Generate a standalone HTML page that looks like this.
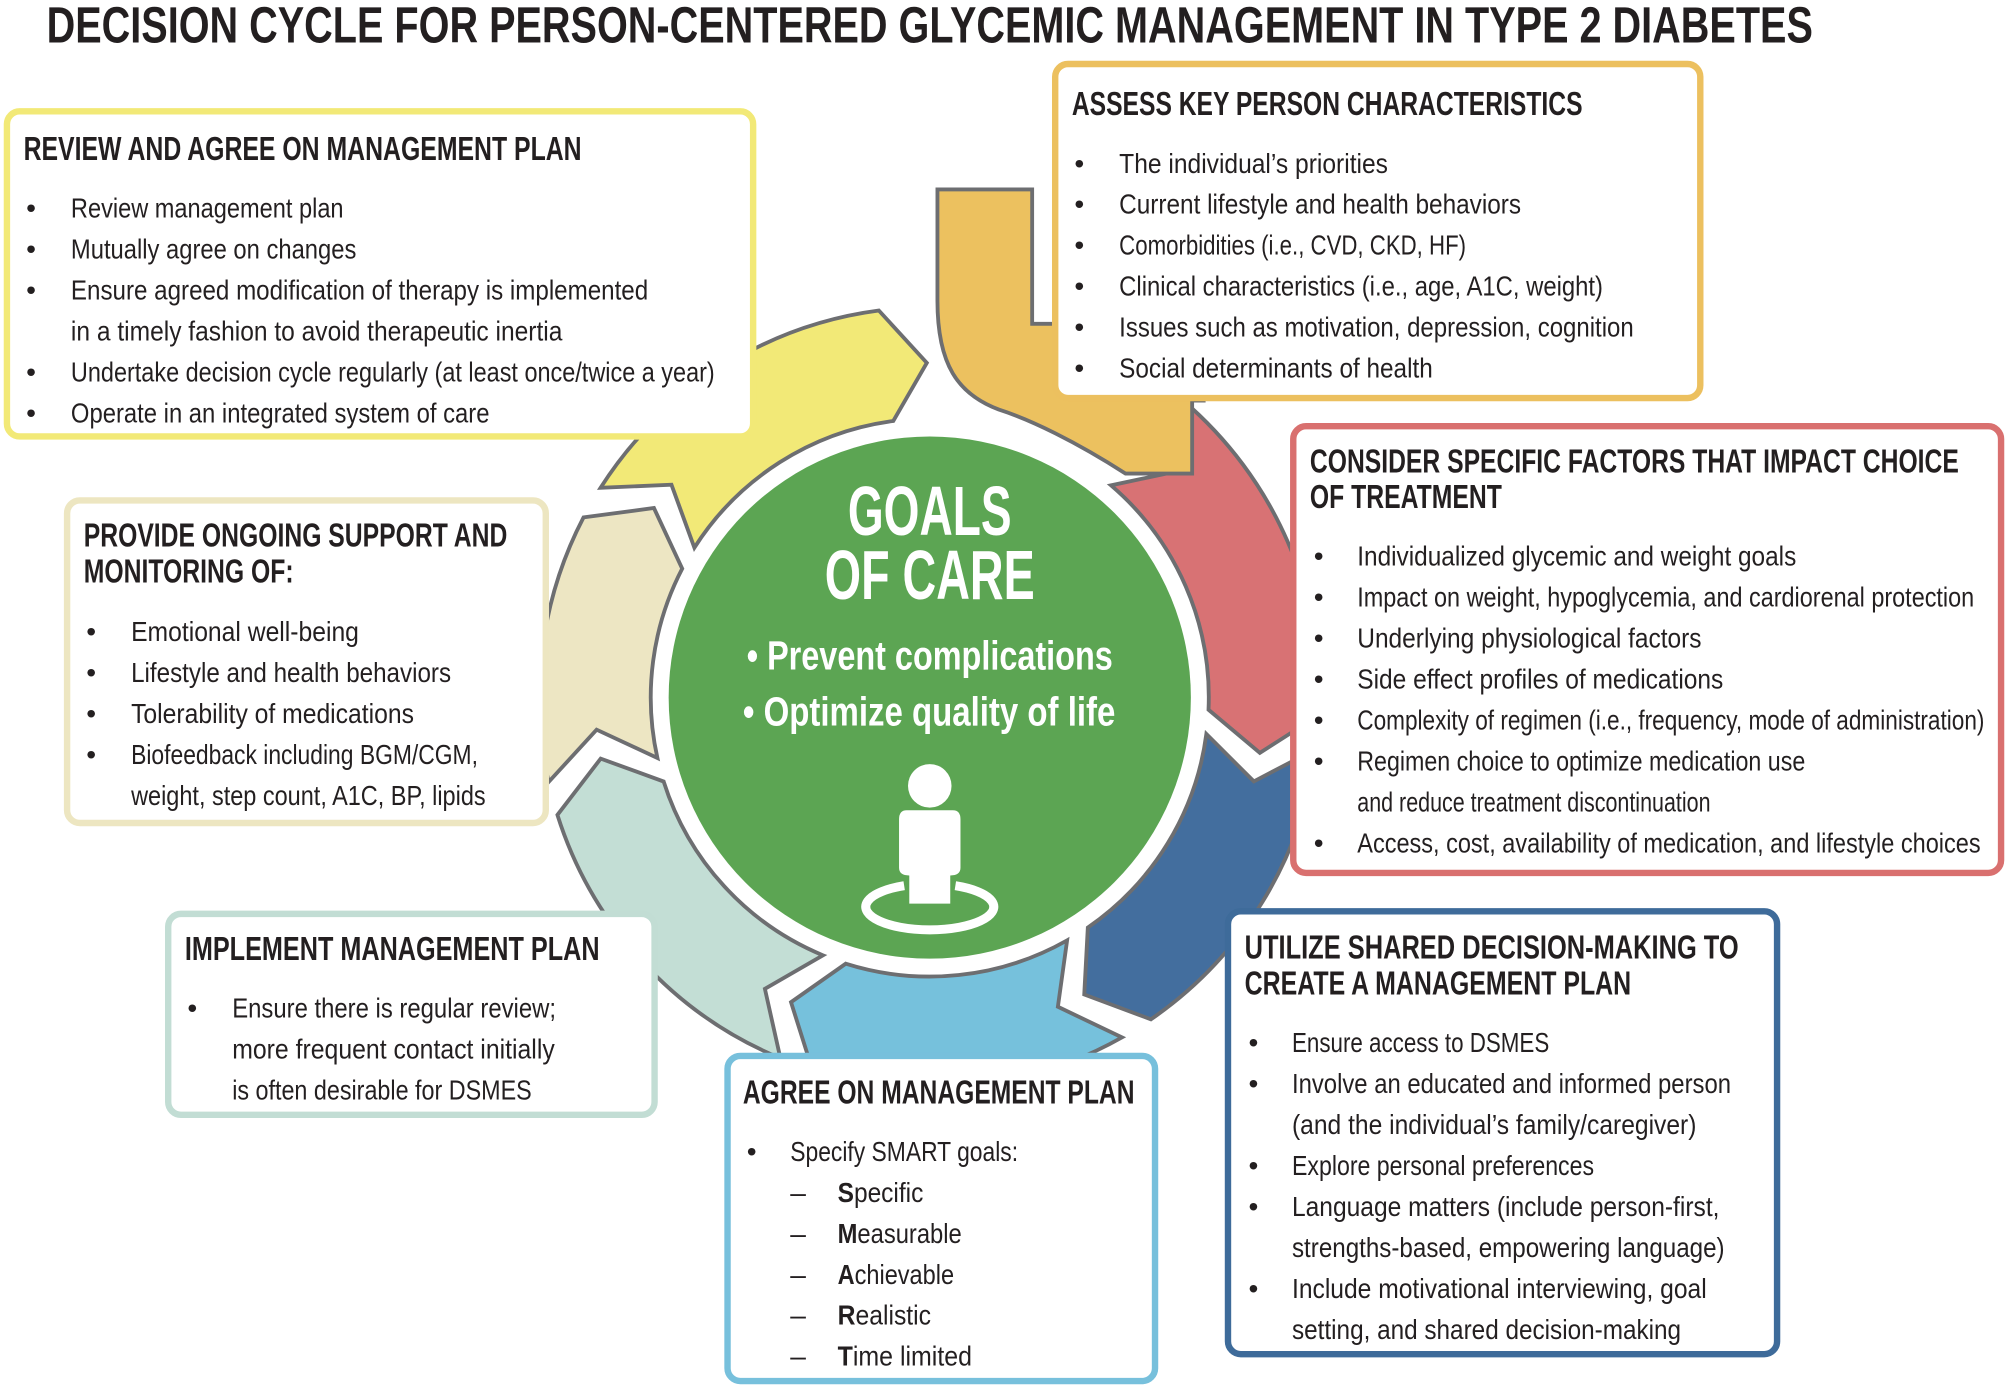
<!DOCTYPE html>
<html><head><meta charset="utf-8"><style>
html,body{margin:0;padding:0;background:#fff;}
svg{display:block}
text{font-family:"Liberation Sans Narrow","Liberation Sans",sans-serif;fill:#231f20}
.h{font-weight:bold;font-size:26px}
.b{font-size:22px}
</style></head><body>
<svg width="2008" height="1390" viewBox="0 0 1568 1086" xmlns="http://www.w3.org/2000/svg">
<g id="ring" stroke="#6d6e71" stroke-width="3" stroke-linejoin="miter"></g>
<path d="M732,148 L806,148 L806,253 L940,253 L940,313 L931,313 L931,370 L879,370 C840,345 805,328 780,320 C748,308 732,285 732,235 Z" fill="#ecc15f" stroke="#6d6e71" stroke-width="3"/>
<circle cx="726" cy="545" r="204" fill="#5ca553"/>
<text x="726" y="418" text-anchor="middle" style="fill:#fff;font-weight:bold;font-size:54px" textLength="128" lengthAdjust="spacingAndGlyphs">GOALS</text>
<text x="726" y="468" text-anchor="middle" style="fill:#fff;font-weight:bold;font-size:54px" textLength="164" lengthAdjust="spacingAndGlyphs">OF CARE</text>
<text x="583" y="523" style="fill:#fff;font-weight:bold;font-size:32px" textLength="286" lengthAdjust="spacingAndGlyphs">• Prevent complications</text>
<text x="580" y="567" style="fill:#fff;font-weight:bold;font-size:32px" textLength="291" lengthAdjust="spacingAndGlyphs">• Optimize quality of life</text>
<circle cx="726" cy="614" r="17" fill="#fff"/>
<path d="M708,633 H744 Q750,633 750,640 V678 Q750,684 742,684 V706 H710 V684 Q702,684 702,678 V640 Q702,633 708,633Z" fill="#fff"/>
<path d="M706,692 A50,18 0 1 0 746,692" fill="none" stroke="#fff" stroke-width="7"/>

<g fill="#fff" stroke-width="5">
<rect x="5" y="87" width="583" height="254" rx="10" stroke="#f2e977"/>
<rect x="824" y="50" width="504" height="261" rx="10" stroke="#ecc05f"/>
<rect x="1010" y="333" width="553" height="349" rx="10" stroke="#d9706f"/>
<rect x="959" y="712" width="429" height="346" rx="10" stroke="#3e6b9a"/>
<rect x="568" y="825" width="334" height="254" rx="10" stroke="#77c0dc"/>
<rect x="131" y="714" width="380" height="157" rx="10" stroke="#c2ddd4"/>
<rect x="52" y="391" width="374" height="252" rx="10" stroke="#ede6c1"/>
</g>

<text x="36" y="33" style="font-weight:bold;font-size:40px" textLength="1380" lengthAdjust="spacingAndGlyphs">DECISION CYCLE FOR PERSON-CENTERED GLYCEMIC MANAGEMENT IN TYPE 2 DIABETES</text>

<text class="h" x="18" y="125" textLength="436" lengthAdjust="spacingAndGlyphs">REVIEW AND AGREE ON MANAGEMENT PLAN</text>
<g class="b">
<text x="20" y="170">•</text><text x="55" y="170" textLength="213" lengthAdjust="spacingAndGlyphs">Review management plan</text>
<text x="20" y="202">•</text><text x="55" y="202" textLength="223" lengthAdjust="spacingAndGlyphs">Mutually agree on changes</text>
<text x="20" y="234">•</text><text x="55" y="234" textLength="451" lengthAdjust="spacingAndGlyphs">Ensure agreed modification of therapy is implemented</text>
<text x="55" y="266" textLength="384" lengthAdjust="spacingAndGlyphs">in a timely fashion to avoid therapeutic inertia</text>
<text x="20" y="298">•</text><text x="55" y="298" textLength="503" lengthAdjust="spacingAndGlyphs">Undertake decision cycle regularly (at least once/twice a year)</text>
<text x="20" y="330">•</text><text x="55" y="330" textLength="327" lengthAdjust="spacingAndGlyphs">Operate in an integrated system of care</text>
</g>
<text class="h" x="837" y="90" textLength="399" lengthAdjust="spacingAndGlyphs">ASSESS KEY PERSON CHARACTERISTICS</text>
<g class="b">
<text x="839" y="135">•</text><text x="874" y="135" textLength="210" lengthAdjust="spacingAndGlyphs">The individual’s priorities</text>
<text x="839" y="167">•</text><text x="874" y="167" textLength="314" lengthAdjust="spacingAndGlyphs">Current lifestyle and health behaviors</text>
<text x="839" y="199">•</text><text x="874" y="199" textLength="271" lengthAdjust="spacingAndGlyphs">Comorbidities (i.e., CVD, CKD, HF)</text>
<text x="839" y="231">•</text><text x="874" y="231" textLength="378" lengthAdjust="spacingAndGlyphs">Clinical characteristics (i.e., age, A1C, weight)</text>
<text x="839" y="263">•</text><text x="874" y="263" textLength="402" lengthAdjust="spacingAndGlyphs">Issues such as motivation, depression, cognition</text>
<text x="839" y="295">•</text><text x="874" y="295" textLength="245" lengthAdjust="spacingAndGlyphs">Social determinants of health</text>
</g>
<text class="h" x="1023" y="369" textLength="507" lengthAdjust="spacingAndGlyphs">CONSIDER SPECIFIC FACTORS THAT IMPACT CHOICE</text>
<text class="h" x="1023" y="397" textLength="150" lengthAdjust="spacingAndGlyphs">OF TREATMENT</text>
<g class="b">
<text x="1026" y="442">•</text><text x="1060" y="442" textLength="343" lengthAdjust="spacingAndGlyphs">Individualized glycemic and weight goals</text>
<text x="1026" y="474">•</text><text x="1060" y="474" textLength="482" lengthAdjust="spacingAndGlyphs">Impact on weight, hypoglycemia, and cardiorenal protection</text>
<text x="1026" y="506">•</text><text x="1060" y="506" textLength="269" lengthAdjust="spacingAndGlyphs">Underlying physiological factors</text>
<text x="1026" y="538">•</text><text x="1060" y="538" textLength="286" lengthAdjust="spacingAndGlyphs">Side effect profiles of medications</text>
<text x="1026" y="570">•</text><text x="1060" y="570" textLength="490" lengthAdjust="spacingAndGlyphs">Complexity of regimen (i.e., frequency, mode of administration)</text>
<text x="1026" y="602">•</text><text x="1060" y="602" textLength="350" lengthAdjust="spacingAndGlyphs">Regimen choice to optimize medication use</text>
<text x="1060" y="634" textLength="276" lengthAdjust="spacingAndGlyphs">and reduce treatment discontinuation</text>
<text x="1026" y="666">•</text><text x="1060" y="666" textLength="487" lengthAdjust="spacingAndGlyphs">Access, cost, availability of medication, and lifestyle choices</text>
</g>
<text class="h" x="972" y="749" textLength="386" lengthAdjust="spacingAndGlyphs">UTILIZE SHARED DECISION-MAKING TO</text>
<text class="h" x="972" y="777" textLength="302" lengthAdjust="spacingAndGlyphs">CREATE A MANAGEMENT PLAN</text>
<g class="b">
<text x="975" y="822">•</text><text x="1009" y="822" textLength="201" lengthAdjust="spacingAndGlyphs">Ensure access to DSMES</text>
<text x="975" y="854">•</text><text x="1009" y="854" textLength="343" lengthAdjust="spacingAndGlyphs">Involve an educated and informed person</text>
<text x="1009" y="886" textLength="316" lengthAdjust="spacingAndGlyphs">(and the individual’s family/caregiver)</text>
<text x="975" y="918">•</text><text x="1009" y="918" textLength="236" lengthAdjust="spacingAndGlyphs">Explore personal preferences</text>
<text x="975" y="950">•</text><text x="1009" y="950" textLength="334" lengthAdjust="spacingAndGlyphs">Language matters (include person-first,</text>
<text x="1009" y="982" textLength="338" lengthAdjust="spacingAndGlyphs">strengths-based, empowering language)</text>
<text x="975" y="1014">•</text><text x="1009" y="1014" textLength="324" lengthAdjust="spacingAndGlyphs">Include motivational interviewing, goal</text>
<text x="1009" y="1046" textLength="304" lengthAdjust="spacingAndGlyphs">setting, and shared decision-making</text>
</g>
<text class="h" x="580" y="862" textLength="306" lengthAdjust="spacingAndGlyphs">AGREE ON MANAGEMENT PLAN</text>
<g class="b">
<text x="583" y="907">•</text><text x="617" y="907" textLength="178" lengthAdjust="spacingAndGlyphs">Specify SMART goals:</text>
<text x="617" y="939">–</text><text x="654" y="939" textLength="67" lengthAdjust="spacingAndGlyphs"><tspan font-weight="bold">S</tspan>pecific</text>
<text x="617" y="971">–</text><text x="654" y="971" textLength="97" lengthAdjust="spacingAndGlyphs"><tspan font-weight="bold">M</tspan>easurable</text>
<text x="617" y="1003">–</text><text x="654" y="1003" textLength="91" lengthAdjust="spacingAndGlyphs"><tspan font-weight="bold">A</tspan>chievable</text>
<text x="617" y="1035">–</text><text x="654" y="1035" textLength="73" lengthAdjust="spacingAndGlyphs"><tspan font-weight="bold">R</tspan>ealistic</text>
<text x="617" y="1067">–</text><text x="654" y="1067" textLength="105" lengthAdjust="spacingAndGlyphs"><tspan font-weight="bold">T</tspan>ime limited</text>
</g>
<text class="h" x="144" y="750" textLength="324" lengthAdjust="spacingAndGlyphs">IMPLEMENT MANAGEMENT PLAN</text>
<g class="b">
<text x="146" y="795">•</text><text x="181" y="795" textLength="253" lengthAdjust="spacingAndGlyphs">Ensure there is regular review;</text>
<text x="181" y="827" textLength="252" lengthAdjust="spacingAndGlyphs">more frequent contact initially</text>
<text x="181" y="859" textLength="234" lengthAdjust="spacingAndGlyphs">is often desirable for DSMES</text>
</g>
<text class="h" x="65" y="427" textLength="331" lengthAdjust="spacingAndGlyphs">PROVIDE ONGOING SUPPORT AND</text>
<text class="h" x="65" y="455" textLength="164" lengthAdjust="spacingAndGlyphs">MONITORING OF:</text>
<g class="b">
<text x="67" y="501">•</text><text x="102" y="501" textLength="178" lengthAdjust="spacingAndGlyphs">Emotional well-being</text>
<text x="67" y="533">•</text><text x="102" y="533" textLength="250" lengthAdjust="spacingAndGlyphs">Lifestyle and health behaviors</text>
<text x="67" y="565">•</text><text x="102" y="565" textLength="221" lengthAdjust="spacingAndGlyphs">Tolerability of medications</text>
<text x="67" y="597">•</text><text x="102" y="597" textLength="271" lengthAdjust="spacingAndGlyphs">Biofeedback including BGM/CGM,</text>
<text x="102" y="629" textLength="277" lengthAdjust="spacingAndGlyphs">weight, step count, A1C, BP, lipids</text>
</g>
</svg>
<script>
(function(){
var cx=726,cy=545,R=305,r=218,m=(R+r)/2,g=2.5,tip=7;
function p(rad,a){a=a*Math.PI/180;return (cx+rad*Math.cos(a)).toFixed(1)+","+(cy+rad*Math.sin(a)).toFixed(1);}
var segs=[[-52,5,"#d87274"],[5,58,"#436e9e"],[58,110,"#76c1dc"],[110,165,"#c3ded5"],[165,210,"#ede6c3"],[210,265,"#f2e977"]];
var s="";
segs.forEach(function(q){
 var a1=q[0]+g,a2=q[1]-g;
 var d="M"+p(R,a1)+" A"+R+","+R+" 0 0 1 "+p(R,a2)+" L"+p(m,a2+tip)+" L"+p(r,a2)+" A"+r+","+r+" 0 0 0 "+p(r,a1)+" L"+p(m,a1+tip)+" Z";
 s+='<path d="'+d+'" fill="'+q[2]+'"/>';
});
document.getElementById("ring").innerHTML=s;
})();
</script>
</body></html>
